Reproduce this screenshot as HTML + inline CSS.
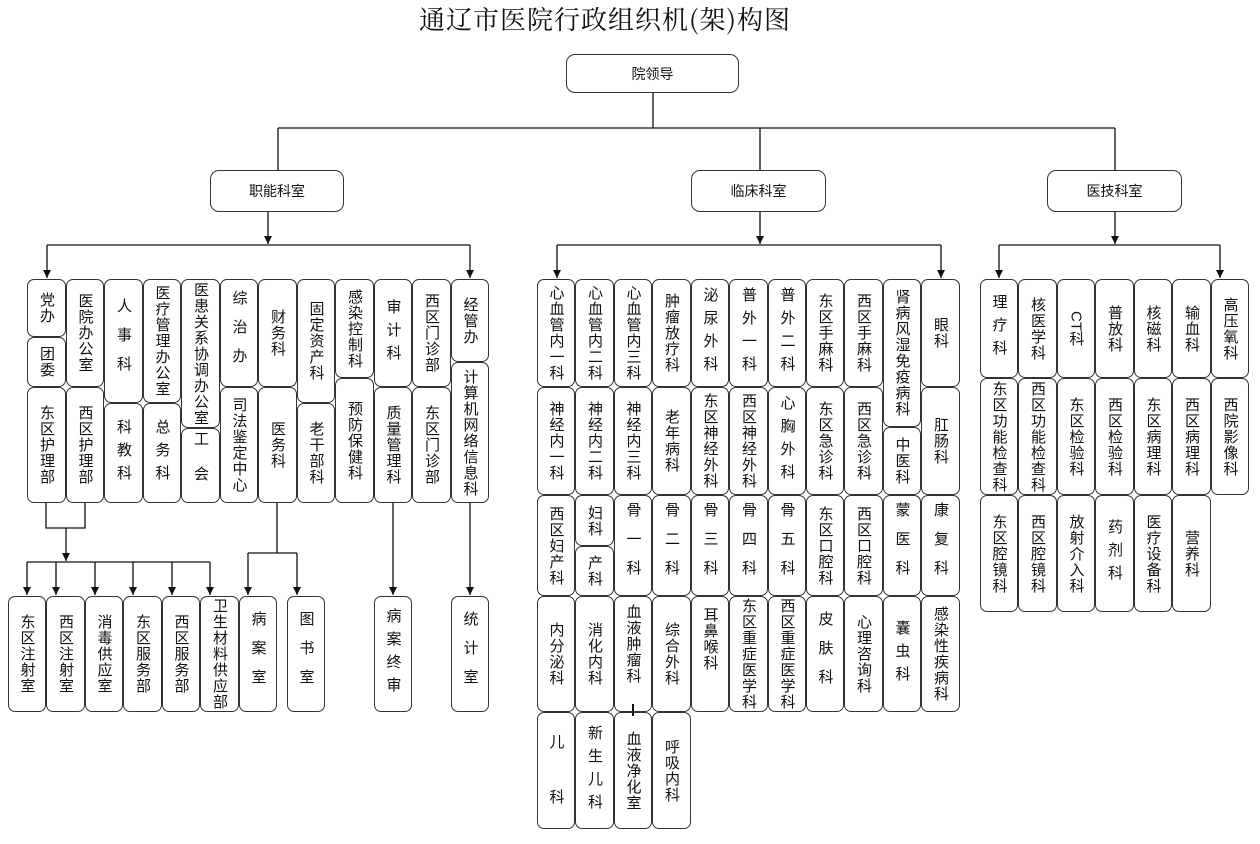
<!DOCTYPE html>
<html><head><meta charset="utf-8"><style>
*{margin:0;padding:0;box-sizing:border-box}
body{width:1260px;height:838px;background:#fff;position:relative;overflow:hidden;font-family:"Liberation Sans","Noto Sans CJK SC","WenQuanYi Zen Hei",sans-serif;color:#111}
.b{position:absolute;border:1.3px solid #333;border-radius:7px;background:#fff;display:flex;align-items:center;justify-content:center}
.b span{writing-mode:vertical-rl;text-orientation:upright;font-size:15px;line-height:1;letter-spacing:1px;white-space:nowrap}
.h{position:absolute;border:1.3px solid #333;border-radius:9px;background:#fff;display:flex;align-items:center;justify-content:center;font-size:14px}
.s1 span{letter-spacing:8px}.s2 span{letter-spacing:14px}.s3 span{letter-spacing:20px}
svg{position:absolute;left:0;top:0}
.t{position:absolute;left:0;width:1210px;top:0;text-align:center;font-size:26px;font-family:"Noto Serif CJK SC","Noto Sans CJK SC",serif;letter-spacing:1px}
</style></head><body>
<div class="t">通辽市医院行政组织机(架)构图</div>
<svg width="1260" height="838">
<defs><marker id="a" markerWidth="8" markerHeight="8" refX="8" refY="4" orient="auto" markerUnits="userSpaceOnUse"><path d="M0,0 L8,4 L0,8 z" fill="#111"/></marker></defs>
<g stroke="#111" stroke-width="1.3" fill="none">
<path d="M653 93V128M278 128H1115M278 128V170M760 128V170M1115 128V170"/>
<path d="M268 211V244" marker-end="url(#a)"/>
<path d="M47 245H470"/><path d="M47 245V278" marker-end="url(#a)"/><path d="M470 245V278" marker-end="url(#a)"/>
<path d="M760 211V244" marker-end="url(#a)"/>
<path d="M557 245H941"/><path d="M557 245V278" marker-end="url(#a)"/><path d="M941 245V278" marker-end="url(#a)"/>
<path d="M1115 211V244" marker-end="url(#a)"/>
<path d="M999 245H1220"/><path d="M999 245V278" marker-end="url(#a)"/><path d="M1220 245V278" marker-end="url(#a)"/>
<path d="M46 503V528H85V503"/><path d="M66 528V561" marker-end="url(#a)"/>
<path d="M27 562H210"/>
<path d="M27 562V595" marker-end="url(#a)"/><path d="M56 562V595" marker-end="url(#a)"/><path d="M95 562V595" marker-end="url(#a)"/><path d="M133 562V595" marker-end="url(#a)"/><path d="M172 562V595" marker-end="url(#a)"/><path d="M210 562V595" marker-end="url(#a)"/>
<path d="M277 503V553M248 553H297"/><path d="M248 553V595" marker-end="url(#a)"/><path d="M297 553V595" marker-end="url(#a)"/>
<path d="M393 503V595" marker-end="url(#a)"/>
<path d="M470 503V595" marker-end="url(#a)"/>
</g>
</svg>
<div class="h" style="left:566px;top:54px;width:173px;height:39px">院领导</div>
<div class="h" style="left:210px;top:170px;width:134px;height:42px">职能科室</div>
<div class="h" style="left:691px;top:170px;width:135px;height:42px">临床科室</div>
<div class="h" style="left:1047px;top:170px;width:135px;height:42px">医技科室</div>

<!-- functional -->
<div class="b" style="left:27px;top:279px;width:39px;height:58px"><span>党办</span></div>
<div class="b" style="left:27px;top:337px;width:39px;height:50px"><span>团委</span></div>
<div class="b" style="left:27px;top:387px;width:39px;height:116px"><span>东区护理部</span></div>
<div class="b" style="left:66px;top:279px;width:38px;height:108px"><span>医院办公室</span></div>
<div class="b" style="left:66px;top:387px;width:38px;height:116px"><span>西区护理部</span></div>
<div class="b s2" style="left:104px;top:279px;width:39px;height:124px"><span>人事科</span></div>
<div class="b s1" style="left:104px;top:403px;width:39px;height:100px"><span>科教科</span></div>
<div class="b" style="left:143px;top:279px;width:38px;height:124px"><span>医疗管理办公室</span></div>
<div class="b s1" style="left:143px;top:403px;width:38px;height:100px"><span>总务科</span></div>
<div class="b" style="left:181px;top:279px;width:39px;height:149px"><span>医患关系协调办公室</span></div>
<div class="b s3" style="left:181px;top:428px;width:39px;height:75px"><span>工会</span></div>
<div class="b s2" style="left:220px;top:279px;width:38px;height:108px"><span>综治办</span></div>
<div class="b" style="left:220px;top:387px;width:38px;height:116px"><span>司法鉴定中心</span></div>
<div class="b" style="left:258px;top:279px;width:39px;height:108px"><span>财务科</span></div>
<div class="b" style="left:258px;top:387px;width:39px;height:116px"><span>医务科</span></div>
<div class="b" style="left:297px;top:279px;width:38px;height:124px"><span>固定资产科</span></div>
<div class="b" style="left:297px;top:403px;width:38px;height:100px"><span>老干部科</span></div>
<div class="b" style="left:335px;top:279px;width:39px;height:99px"><span>感染控制科</span></div>
<div class="b" style="left:335px;top:378px;width:39px;height:125px"><span>预防保健科</span></div>
<div class="b s1" style="left:374px;top:279px;width:38px;height:108px"><span>审计科</span></div>
<div class="b" style="left:374px;top:387px;width:38px;height:116px"><span>质量管理科</span></div>
<div class="b" style="left:412px;top:279px;width:39px;height:108px"><span>西区门诊部</span></div>
<div class="b" style="left:412px;top:387px;width:39px;height:116px"><span>东区门诊部</span></div>
<div class="b" style="left:451px;top:279px;width:38px;height:83px"><span>经管办</span></div>
<div class="b" style="left:451px;top:362px;width:38px;height:141px"><span>计算机网络信息科</span></div>

<div class="b" style="left:8px;top:596px;width:38px;height:116px"><span>东区注射室</span></div>
<div class="b" style="left:46px;top:596px;width:39px;height:116px"><span>西区注射室</span></div>
<div class="b" style="left:85px;top:596px;width:38px;height:116px"><span>消毒供应室</span></div>
<div class="b" style="left:123px;top:596px;width:39px;height:116px"><span>东区服务部</span></div>
<div class="b" style="left:162px;top:596px;width:38px;height:116px"><span>西区服务部</span></div>
<div class="b" style="left:200px;top:596px;width:39px;height:116px"><span>卫生材料供应部</span></div>
<div class="b s2" style="left:239px;top:596px;width:38px;height:116px"><span>病案室</span></div>
<div class="b s2" style="left:287px;top:596px;width:38px;height:116px"><span>图书室</span></div>
<div class="b s1" style="left:374px;top:596px;width:38px;height:116px"><span>病案终审</span></div>
<div class="b s2" style="left:451px;top:596px;width:38px;height:116px"><span>统计室</span></div>

<!-- clinical row1 -->
<div class="b" style="left:537px;top:279px;width:38px;height:108px"><span>心血管内一科</span></div>
<div class="b" style="left:575px;top:279px;width:39px;height:108px"><span>心血管内二科</span></div>
<div class="b" style="left:614px;top:279px;width:38px;height:108px"><span>心血管内三科</span></div>
<div class="b" style="left:652px;top:279px;width:39px;height:108px"><span>肿瘤放疗科</span></div>
<div class="b s1" style="left:691px;top:279px;width:38px;height:108px"><span>泌尿外科</span></div>
<div class="b s1" style="left:729px;top:279px;width:39px;height:108px"><span>普外一科</span></div>
<div class="b s1" style="left:768px;top:279px;width:38px;height:108px"><span>普外二科</span></div>
<div class="b" style="left:806px;top:279px;width:38px;height:108px"><span>东区手麻科</span></div>
<div class="b" style="left:844px;top:279px;width:39px;height:108px"><span>西区手麻科</span></div>
<div class="b" style="left:883px;top:279px;width:38px;height:148px"><span>肾病风湿免疫病科</span></div>
<div class="b" style="left:921px;top:279px;width:39px;height:108px"><span>眼科</span></div>
<!-- row2 -->
<div class="b" style="left:537px;top:387px;width:38px;height:108px"><span>神经内一科</span></div>
<div class="b" style="left:575px;top:387px;width:39px;height:108px"><span>神经内二科</span></div>
<div class="b" style="left:614px;top:387px;width:38px;height:108px"><span>神经内三科</span></div>
<div class="b" style="left:652px;top:387px;width:39px;height:108px"><span>老年病科</span></div>
<div class="b" style="left:691px;top:387px;width:38px;height:108px"><span>东区神经外科</span></div>
<div class="b" style="left:729px;top:387px;width:39px;height:108px"><span>西区神经外科</span></div>
<div class="b s1" style="left:768px;top:387px;width:38px;height:108px"><span>心胸外科</span></div>
<div class="b" style="left:806px;top:387px;width:38px;height:108px"><span>东区急诊科</span></div>
<div class="b" style="left:844px;top:387px;width:39px;height:108px"><span>西区急诊科</span></div>
<div class="b" style="left:883px;top:427px;width:38px;height:68px"><span>中医科</span></div>
<div class="b" style="left:921px;top:387px;width:39px;height:108px"><span>肛肠科</span></div>
<!-- row3 -->
<div class="b" style="left:537px;top:495px;width:38px;height:101px"><span>西区妇产科</span></div>
<div class="b" style="left:575px;top:495px;width:39px;height:51px"><span>妇科</span></div>
<div class="b" style="left:575px;top:546px;width:39px;height:50px"><span>产科</span></div>
<div class="b s2" style="left:614px;top:495px;width:38px;height:101px"><span>骨一科</span></div>
<div class="b s2" style="left:652px;top:495px;width:39px;height:101px"><span>骨二科</span></div>
<div class="b s2" style="left:691px;top:495px;width:38px;height:101px"><span>骨三科</span></div>
<div class="b s2" style="left:729px;top:495px;width:39px;height:101px"><span>骨四科</span></div>
<div class="b s2" style="left:768px;top:495px;width:38px;height:101px"><span>骨五科</span></div>
<div class="b" style="left:806px;top:495px;width:38px;height:101px"><span>东区口腔科</span></div>
<div class="b" style="left:844px;top:495px;width:39px;height:101px"><span>西区口腔科</span></div>
<div class="b s2" style="left:883px;top:495px;width:38px;height:101px"><span>蒙医科</span></div>
<div class="b s2" style="left:921px;top:495px;width:39px;height:101px"><span>康复科</span></div>
<!-- row4 -->
<div class="b" style="left:537px;top:596px;width:38px;height:116px"><span>内分泌科</span></div>
<div class="b" style="left:575px;top:596px;width:39px;height:116px"><span>消化内科</span></div>
<div class="b" style="left:614px;top:596px;width:38px;height:116px"><span style="margin-top:-20px">血液肿瘤科</span></div>
<div class="b" style="left:652px;top:596px;width:39px;height:116px"><span>综合外科</span></div>
<div class="b" style="left:691px;top:596px;width:38px;height:116px"><span style="margin-top:-30px">耳鼻喉科</span></div>
<div class="b" style="left:729px;top:596px;width:39px;height:116px"><span>东区重症医学科</span></div>
<div class="b" style="left:768px;top:596px;width:38px;height:116px"><span>西区重症医学科</span></div>
<div class="b s2" style="left:806px;top:596px;width:38px;height:116px"><span>皮肤科</span></div>
<div class="b" style="left:844px;top:596px;width:39px;height:116px"><span>心理咨询科</span></div>
<div class="b s1" style="left:883px;top:596px;width:38px;height:116px"><span>囊虫科</span></div>
<div class="b" style="left:921px;top:596px;width:39px;height:116px"><span>感染性疾病科</span></div>
<!-- row5 -->
<div class="b" style="left:537px;top:712px;width:38px;height:117px"><span style="letter-spacing:40px;margin-top:36px">儿科</span></div>
<div class="b s1" style="left:575px;top:712px;width:39px;height:117px"><span>新生儿科</span></div>
<div class="b" style="left:614px;top:712px;width:38px;height:117px"><span>血液净化室</span></div>
<div class="b" style="left:652px;top:712px;width:39px;height:117px"><span>呼吸内科</span></div>
<div style="position:absolute;left:632px;top:704px;width:2px;height:12px;background:#111"></div>

<!-- med tech -->
<div class="b s1" style="left:980px;top:279px;width:38px;height:99px"><span>理疗科</span></div>
<div class="b" style="left:1018px;top:279px;width:39px;height:99px"><span>核医学科</span></div>
<div class="b" style="left:1057px;top:279px;width:38px;height:99px"><span><span style="text-orientation:mixed;letter-spacing:0">CT</span>科</span></div>
<div class="b" style="left:1095px;top:279px;width:39px;height:99px"><span>普放科</span></div>
<div class="b" style="left:1134px;top:279px;width:38px;height:99px"><span>核磁科</span></div>
<div class="b" style="left:1172px;top:279px;width:39px;height:99px"><span>输血科</span></div>
<div class="b" style="left:1211px;top:279px;width:38px;height:99px"><span>高压氧科</span></div>
<div class="b" style="left:980px;top:378px;width:38px;height:117px"><span>东区功能检查科</span></div>
<div class="b" style="left:1018px;top:378px;width:39px;height:117px"><span>西区功能检查科</span></div>
<div class="b" style="left:1057px;top:378px;width:38px;height:117px"><span>东区检验科</span></div>
<div class="b" style="left:1095px;top:378px;width:39px;height:117px"><span>西区检验科</span></div>
<div class="b" style="left:1134px;top:378px;width:38px;height:117px"><span>东区病理科</span></div>
<div class="b" style="left:1172px;top:378px;width:39px;height:117px"><span>西区病理科</span></div>
<div class="b" style="left:1211px;top:378px;width:38px;height:117px"><span>西院影像科</span></div>
<div class="b" style="left:980px;top:495px;width:38px;height:117px"><span>东区腔镜科</span></div>
<div class="b" style="left:1018px;top:495px;width:39px;height:117px"><span>西区腔镜科</span></div>
<div class="b" style="left:1057px;top:495px;width:38px;height:117px"><span>放射介入科</span></div>
<div class="b s1" style="left:1095px;top:495px;width:39px;height:117px"><span>药剂科</span></div>
<div class="b" style="left:1134px;top:495px;width:38px;height:117px"><span>医疗设备科</span></div>
<div class="b" style="left:1172px;top:495px;width:39px;height:117px"><span>营养科</span></div>
</body></html>
